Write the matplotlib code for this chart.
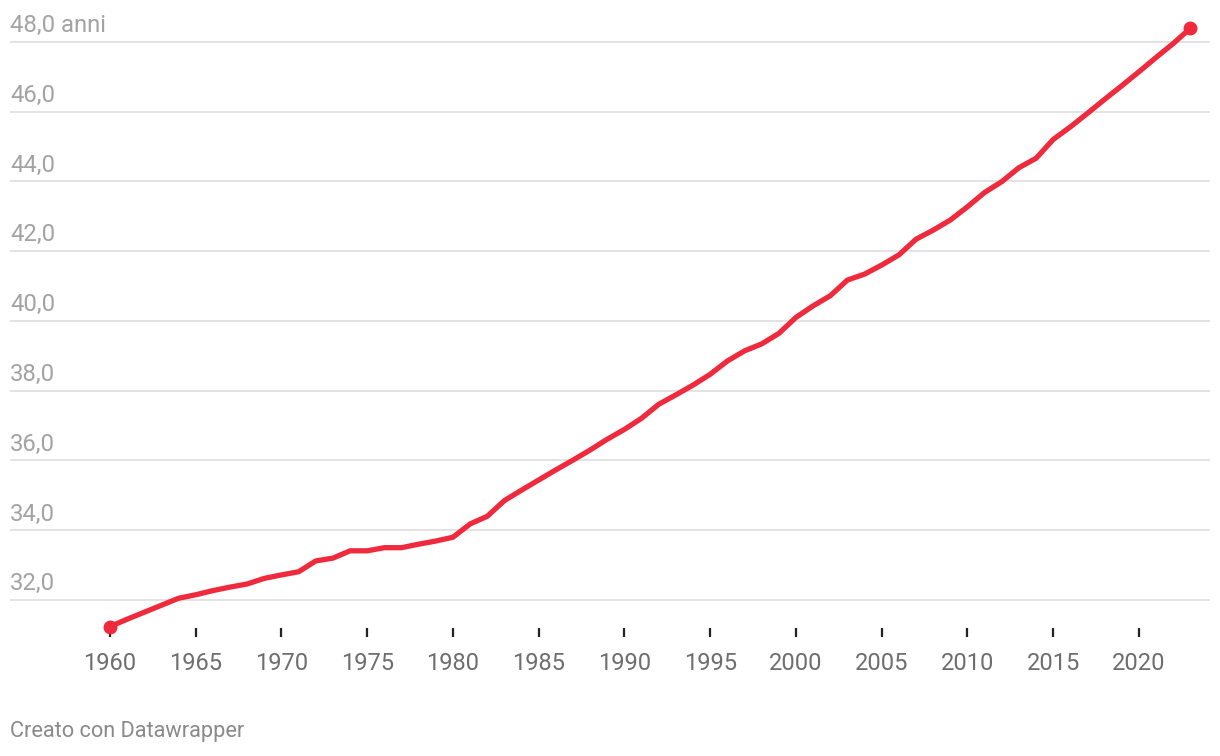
import matplotlib
matplotlib.use("Agg")
import matplotlib.pyplot as plt
import matplotlib.transforms as mtransforms

plt.rcParams['font.family'] = ['Roboto', 'DejaVu Sans']

years = list(range(1960, 2024))
median_age = [
    31.24, 31.45, 31.65, 31.85, 32.05, 32.15, 32.27, 32.37, 32.46, 32.62,
    32.72, 32.81, 33.12, 33.20, 33.41, 33.41, 33.50, 33.50, 33.60, 33.69,
    33.80, 34.18, 34.40, 34.85, 35.15, 35.44, 35.73, 36.01, 36.30, 36.61,
    36.89, 37.21, 37.61, 37.88, 38.16, 38.47, 38.85, 39.14, 39.34, 39.64,
    40.10, 40.43, 40.72, 41.17, 41.34, 41.60, 41.89, 42.34, 42.60, 42.89,
    43.27, 43.68, 43.99, 44.39, 44.66, 45.20, 45.56, 45.95, 46.35, 46.74,
    47.14, 47.55, 47.95, 48.39,
]
y_ticks = [32.0, 34.0, 36.0, 38.0, 40.0, 42.0, 44.0, 46.0, 48.0]
y_tick_labels = ["32,0", "34,0", "36,0", "38,0", "40,0", "42,0", "44,0", "46,0", "48,0 anni"]
x_ticks = [1960, 1965, 1970, 1975, 1980, 1985, 1990, 1995, 2000, 2005, 2010, 2015, 2020]
footer = "Creato con Datawrapper"

W, H = 1220, 756
fig = plt.figure(figsize=(W / 100, H / 100), dpi=100)
fig.patch.set_facecolor("white")

# axes area in pixels: x 10..1210, y 10..640 (from top)
ax = fig.add_axes([10 / W, (H - 640) / H, 1200 / W, 630 / H])
ax.set_xlim(1954.17, 2024.14)
ax.set_ylim(30.854, 48.909)
ax.set_axis_off()

red = "#f02a3d"

# gridlines
for yv in y_ticks:
    ax.axhline(yv, color="#e3e3e3", linewidth=1.4, zorder=1)

# y labels above gridlines
for yv, lab in zip(y_ticks, y_tick_labels):
    ax.annotate(lab, xy=(0, yv), xycoords=("axes fraction", "data"),
                xytext=(0, 11.6), textcoords="offset points",
                ha="left", va="center", fontsize=17.2, color="#a3a3a3")

# x ticks and labels
trans = mtransforms.blended_transform_factory(ax.transData, ax.transAxes)
for xv in x_ticks:
    ax.plot([xv, xv], [0.0048, 0.019], transform=trans, color="#222222",
            linewidth=1.6, solid_capstyle="butt", clip_on=False, zorder=2)
    ax.text(xv, -0.037, str(xv), transform=trans, ha="center", va="center",
            fontsize=17, color="#6e6e6e")

# line
ax.plot(years, median_age, color=red, linewidth=3.8, solid_joinstyle="round",
        solid_capstyle="round", clip_on=False, zorder=3)
ax.plot([years[0], years[-1]], [median_age[0], median_age[-1]], linestyle="none",
        marker="o", markersize=9, color=red, clip_on=False, zorder=4)

fig.text(10 / W, 1 - 731 / H, footer, ha="left", va="center", fontsize=15.7,
         color="#8a8a8a")

fig.savefig("out.png", dpi=100, facecolor="white")
